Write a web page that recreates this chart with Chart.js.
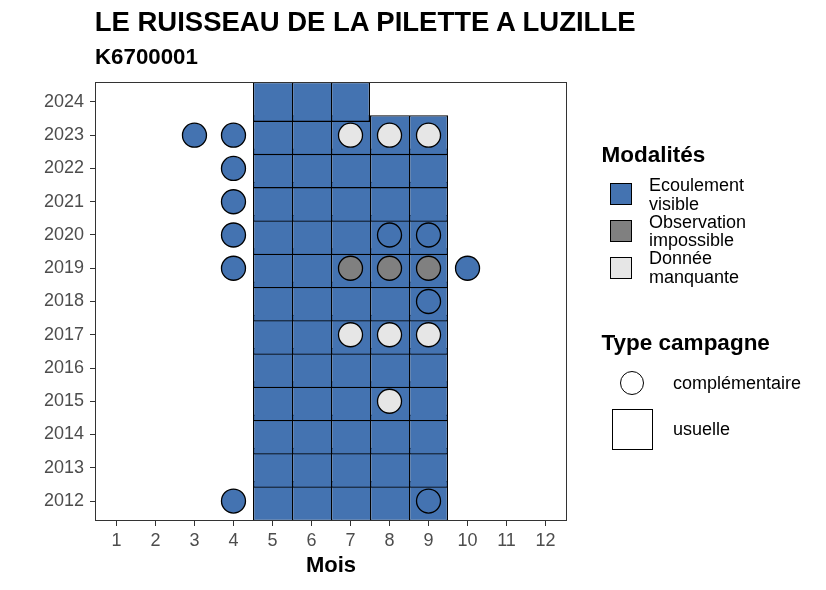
<!DOCTYPE html>
<html>
<head>
<meta charset="utf-8">
<script src="https://cdn.jsdelivr.net/npm/chart.js@4.4.1/dist/chart.umd.min.js"></script>
<style>
  html, body { margin: 0; padding: 0; background: #fff; }
  #wrap { position: relative; width: 826px; height: 590px; font-family: "Liberation Sans", Arial, sans-serif; color: #000; }
  #box { position: absolute; left: 0; top: 0; width: 826px; height: 590px; }
  .t { position: absolute; white-space: nowrap; line-height: 1; }
  .b { font-weight: bold; }
  .lab { position: absolute; font-size: 18px; line-height: 18.8px; white-space: nowrap; }
  .key { position: absolute; box-sizing: border-box; border: 1px solid #000; }
</style>
</head>
<body>
<div id="wrap">
  <div id="box"><canvas id="c"></canvas></div>
  <div class="t b" style="left:94.7px; top:7.6px; font-size:27.5px;">LE RUISSEAU DE LA PILETTE A LUZILLE</div>
  <div class="t b" style="left:95px; top:45.5px; font-size:22.3px;">K6700001</div>

  <div class="t b" style="left:601.5px; top:143.5px; font-size:22.5px;">Modalités</div>
  <div class="key" style="left:609.5px; top:183.2px; width:22px; height:22px; background:#4473B1;"></div>
  <div class="key" style="left:609.5px; top:219.9px; width:22px; height:22px; background:#808080;"></div>
  <div class="key" style="left:609.5px; top:256.5px; width:22px; height:22px; background:#E6E6E6;"></div>
  <div class="lab" style="left:649px; top:176px;">Ecoulement<br>visible</div>
  <div class="lab" style="left:649px; top:212.7px;">Observation<br>impossible</div>
  <div class="lab" style="left:649px; top:249.3px;">Donnée<br>manquante</div>

  <div class="t b" style="left:601.5px; top:332px; font-size:22.5px;">Type campagne</div>
  <div class="key" style="left:619.5px; top:371.3px; width:24px; height:24px; border-radius:50%; background:#fff;"></div>
  <div class="key" style="left:611.5px; top:409.3px; width:41px; height:41px; background:#fff;"></div>
  <div class="lab" style="left:673px; top:373.5px;">complémentaire</div>
  <div class="lab" style="left:673px; top:420px;">usuelle</div>
</div>
<script>
// ---- data ----
const months = [1, 2, 3, 4, 5, 6, 7, 8, 9, 10, 11, 12];
const years = [2012, 2013, 2014, 2015, 2016, 2017, 2018, 2019, 2020, 2021, 2022, 2023, 2024];

// usual campaign tiles (all "Ecoulement visible"), months per year aligned with `years`
const usualMonths = [
  [5, 6, 7, 8, 9], [5, 6, 7, 8, 9], [5, 6, 7, 8, 9], [5, 6, 7, 8, 9],
  [5, 6, 7, 8, 9], [5, 6, 7, 8, 9], [5, 6, 7, 8, 9], [5, 6, 7, 8, 9],
  [5, 6, 7, 8, 9], [5, 6, 7, 8, 9], [5, 6, 7, 8, 9], [5, 6, 7, 8, 9],
  [5, 6, 7]
];
const usualState = 'visible';

// complementary campaign points
const compYears  = [2023, 2023, 2023, 2023, 2023, 2022, 2021, 2020, 2020, 2020, 2019, 2019, 2019, 2019, 2019, 2018, 2017, 2017, 2017, 2015, 2012, 2012];
const compMonths = [3, 4, 7, 8, 9, 4, 4, 4, 8, 9, 4, 7, 8, 9, 10, 9, 7, 8, 9, 8, 4, 9];
const compStates = ['visible', 'visible', 'missing', 'missing', 'missing', 'visible', 'visible', 'visible', 'visible', 'visible',
                    'visible', 'impossible', 'impossible', 'impossible', 'visible', 'visible', 'missing', 'missing', 'missing', 'missing',
                    'visible', 'visible'];

// ---- styles ----
const stateColor = { visible: '#4473B1', impossible: '#808080', missing: '#E6E6E6' };
const tileHalfHeight = 0.6;

// ---- build library data ----
const tileData = [];
years.forEach((y, i) => {
  usualMonths[i].forEach(m => {
    tileData.push({ x: m, y: [y - tileHalfHeight, y + tileHalfHeight], state: usualState, last: !usualMonths[i].includes(m + 1) });
  });
});
const pointData = compYears.map((y, i) => ({ x: compMonths[i], y: y, state: compStates[i] }));

const panelBorder = {
  id: 'panelBorder',
  afterDatasetsDraw(chart) {
    const { ctx, chartArea: a } = chart;
    ctx.save();
    ctx.strokeStyle = '#333333';
    ctx.lineWidth = 1;
    ctx.strokeRect(Math.round(a.left) + 0.5, Math.round(a.top) + 0.5, Math.round(a.right - a.left) - 1, Math.round(a.bottom - a.top) - 1);
    ctx.restore();
  }
};

const fam = '"Liberation Sans", Arial, sans-serif';
const tickFont = { family: fam, size: 18 };

new Chart(document.getElementById('c'), {
  type: 'bar',
  data: {
    datasets: [
      {
        type: 'scatter',
        order: 1,
        data: pointData,
        pointRadius: 12,
        pointHoverRadius: 12,
        pointBorderWidth: 1.3,
        pointHoverBorderWidth: 1.3,
        pointBorderColor: '#000',
        pointBackgroundColor: ctx => stateColor[ctx.raw ? ctx.raw.state : 'visible'],
        pointHoverBackgroundColor: ctx => stateColor[ctx.raw ? ctx.raw.state : 'visible']
      },
      {
        type: 'bar',
        order: 2,
        data: tileData,
        grouped: false,
        barPercentage: 1,
        categoryPercentage: 1,
        backgroundColor: ctx => stateColor[ctx.raw ? ctx.raw.state : 'visible'],
        borderColor: '#000',
        borderSkipped: false,
        inflateAmount: 0,
        borderWidth: ctx => ({ top: 1.3, bottom: 1.3, left: 1.3, right: (ctx.raw && ctx.raw.last) ? 1.3 : 0 })
      }
    ]
  },
  options: {
    responsive: true,
    maintainAspectRatio: false,
    animation: false,
    devicePixelRatio: 1,
    events: [],
    layout: { padding: { left: 0, top: 82, right: 259, bottom: 0 } },
    plugins: { legend: { display: false }, tooltip: { enabled: false }, title: { display: false } },
    scales: {
      x: {
        type: 'linear',
        min: 0.45,
        max: 12.55,
        offset: false,
        afterBuildTicks: s => { s.ticks = months.map(v => ({ value: v })); },
        afterFit: s => { s.height = 69; },
        ticks: { font: tickFont, color: '#4D4D4D', padding: 4, maxRotation: 0, autoSkip: false },
        grid: { display: true, drawOnChartArea: false, drawTicks: true, tickLength: 5, tickColor: '#333333', offset: false },
        border: { display: false },
        title: { display: true, text: 'Mois', color: '#000', font: { family: fam, size: 22, weight: 'bold' }, padding: { top: 0, bottom: 10.5 } }
      },
      y: {
        type: 'linear',
        min: 2011.4,
        max: 2024.6,
        afterBuildTicks: s => { s.ticks = years.map(v => ({ value: v })); },
        afterFit: s => { s.width = 95; },
        ticks: { font: tickFont, color: '#4D4D4D', padding: 6, autoSkip: false, callback: v => String(v) },
        grid: { display: true, drawOnChartArea: false, drawTicks: true, tickLength: 5, tickColor: '#333333' },
        border: { display: false }
      }
    }
  },
  plugins: [panelBorder]
});
</script>
</body>
</html>
